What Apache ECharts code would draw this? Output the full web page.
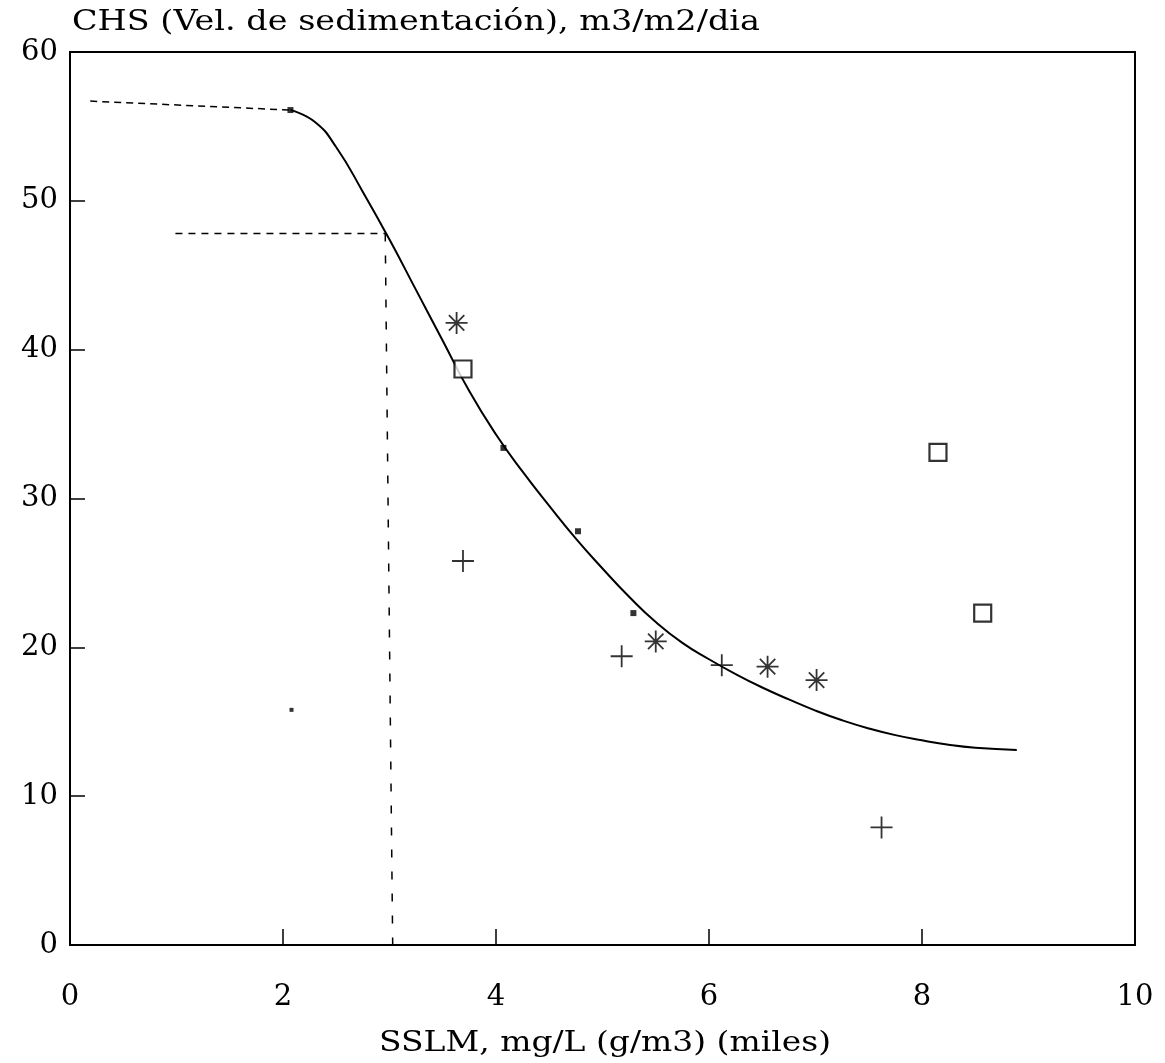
<!DOCTYPE html>
<html>
<head>
<meta charset="utf-8">
<script src="https://cdn.jsdelivr.net/npm/echarts@6/dist/echarts.min.js"></script>
<style>
  html, body { margin: 0; padding: 0; background: #fff; }
  #chart { width: 1165px; height: 1063px; }
</style>
</head>
<body>
<div id="chart"></div>
<script>
// curva ajustada (trazo continuo)
const curve = [
  [2.07, 56.1], [2.30, 55.3], [2.50, 53.6], [2.75, 50.6], [3.00, 47.4],
  [3.25, 44.0], [3.50, 40.6], [3.75, 37.2], [4.00, 34.3], [4.25, 31.8],
  [4.50, 29.5], [4.75, 27.3], [5.00, 25.3], [5.25, 23.4], [5.50, 21.7],
  [5.75, 20.3], [6.00, 19.2], [6.25, 18.2], [6.50, 17.3], [6.75, 16.5],
  [7.00, 15.75], [7.25, 15.1], [7.50, 14.55], [7.75, 14.1], [8.00, 13.75],
  [8.25, 13.45], [8.50, 13.25], [8.89, 13.1]
]
// tramo inicial discontinuo
const curveStart = [[0.19, 56.7], [2.07, 56.1]]
// lineas guia
const guideH = [[0.99, 47.8], [2.96, 47.8]]
const guideV = [[2.96, 47.8], [3.03, 0]]

const dots = [[2.07, 56.1], [4.07, 33.4], [4.77, 27.8], [5.29, 22.3]]
const stars = [[3.63, 41.8], [5.50, 20.4], [6.55, 18.7], [7.01, 17.8]]
const squares = [[3.69, 38.7], [8.15, 33.1], [8.57, 22.3]]
const pluses = [[3.69, 25.8], [5.18, 19.4], [6.12, 18.8], [7.62, 7.9]]
const specks = [[2.08, 15.8]]

const xTicks = [0, 2, 4, 6, 8, 10]
const yTicks = [0, 10, 20, 30, 40, 50, 60]

const titleText = 'CHS (Vel. de sedimentación), m3/m2/dia'
const xName = 'SSLM, mg/L (g/m3) (miles)'

const font = 'DejaVu Serif'
const chart = echarts.init(document.getElementById('chart'))

// el texto original va mas espaciado que la fuente: se estira en horizontal
const measure = (txt, size) => {
  const ctx = document.createElement('canvas').getContext('2d')
  ctx.font = size + 'px "' + font + '"'
  return ctx.measureText(txt).width
}
const titleScale = 688 / measure(titleText, 27)
const nameScale = 452 / measure(xName, 27)

const option = {
  animation: false,
  backgroundColor: '#fff',
  graphic: [
    {
      type: 'text', x: 72, y: 23, scaleX: titleScale,
      style: { text: titleText, font: '27px "' + font + '"', fill: '#000', align: 'left', verticalAlign: 'middle' }
    },
    {
      type: 'text', x: 605, y: 1044, scaleX: nameScale,
      style: { text: xName, font: '27px "' + font + '"', fill: '#000', align: 'center', verticalAlign: 'middle' }
    }
  ],
  grid: { left: 70, right: 30, top: 52, bottom: 118, show: true, borderColor: '#000', borderWidth: 2 },
  xAxis: {
    type: 'value',
    min: xTicks[0],
    max: xTicks[xTicks.length - 1],
    interval: 2,
    axisLine: { lineStyle: { color: '#000', width: 2 } },
    axisTick: { inside: true, length: 16, lineStyle: { color: '#000', width: 1.5 } },
    axisLabel: { fontFamily: font, fontSize: 29, color: '#000', margin: 38 },
    splitLine: { show: false }
  },
  yAxis: {
    type: 'value',
    min: yTicks[0],
    max: yTicks[yTicks.length - 1],
    interval: 10,
    axisLine: { lineStyle: { color: '#000', width: 2 } },
    axisTick: { inside: true, length: 15, lineStyle: { color: '#000', width: 1.5 } },
    axisLabel: { fontFamily: font, fontSize: 29, color: '#000', margin: 12 },
    splitLine: { show: false }
  },
  series: [
    {
      type: 'line', data: curve, smooth: 0.5, symbol: 'none',
      lineStyle: { color: '#000', width: 2 }, z: 2
    },
    {
      type: 'line', data: curveStart, symbol: 'none',
      lineStyle: { color: '#000', width: 1.5, type: [7, 5] }, z: 2
    },
    {
      type: 'line', data: guideH, symbol: 'none',
      lineStyle: { color: '#000', width: 1.5, type: [7, 6] }, z: 2
    },
    {
      type: 'line', data: guideV, symbol: 'none',
      lineStyle: { color: '#000', width: 1.5, type: [8, 14] }, z: 2
    },
    {
      type: 'scatter', data: dots, symbol: 'rect', symbolSize: 6,
      itemStyle: { color: '#000' }, z: 3
    },
    {
      type: 'scatter', data: stars,
      symbol: 'path://M10,0L10,20M0,10L20,10M3,3L17,17M3,17L17,3',
      symbolSize: 22,
      itemStyle: { color: 'none', borderColor: '#000', borderWidth: 1.8 }, z: 3
    },
    {
      type: 'scatter', data: squares, symbol: 'rect', symbolSize: 17,
      itemStyle: { color: '#fff', borderColor: '#000', borderWidth: 2.2 }, z: 4
    },
    {
      type: 'scatter', data: pluses,
      symbol: 'path://M10,0L10,20M0,10L20,10',
      symbolSize: 22,
      itemStyle: { color: 'none', borderColor: '#000', borderWidth: 1.8 }, z: 3
    },
    {
      type: 'scatter', data: specks, symbol: 'rect', symbolSize: 4,
      itemStyle: { color: '#000' }, z: 3
    }
  ]
}

chart.setOption(option)
window.addEventListener('resize', () => chart.resize())
</script>
</body>
</html>
